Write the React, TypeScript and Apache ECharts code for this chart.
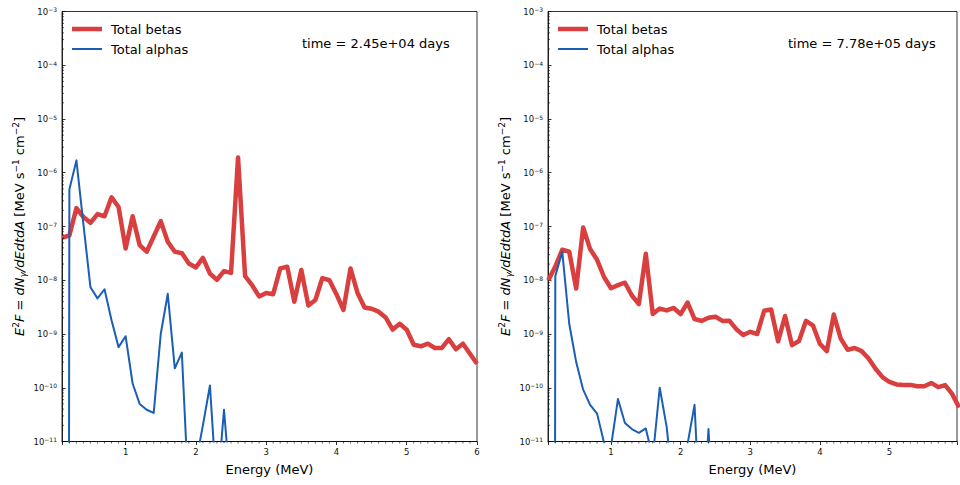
import React, { useEffect, useRef } from 'react';
import * as echarts from 'echarts';

// Energy grid (MeV)
const energies = [
  0.1, 0.2, 0.3, 0.4, 0.5, 0.6, 0.7, 0.8, 0.9,
  1.0, 1.1, 1.2, 1.3, 1.4, 1.5, 1.6, 1.7, 1.8, 1.9,
  2.0, 2.1, 2.2, 2.3, 2.4, 2.5, 2.6, 2.7, 2.8, 2.9,
  3.0, 3.1, 3.2, 3.3, 3.4, 3.5, 3.6, 3.7, 3.8, 3.9,
  4.0, 4.1, 4.2, 4.3, 4.4, 4.5, 4.6, 4.7, 4.8, 4.9,
  5.0, 5.1, 5.2, 5.3, 5.4, 5.5, 5.6, 5.7, 5.8, 5.9,
  6.0,
];

// Panel 1: time = 2.45e+04 days
const betasEarly = [
  6.2e-8, 6.8e-8, 2.2e-7, 1.5e-7, 1.17e-7, 1.7e-7, 1.55e-7, 3.5e-7, 2.3e-7,
  3.9e-8, 1.55e-7, 4.5e-8, 3.4e-8, 6.5e-8, 1.26e-7, 5.2e-8, 3.4e-8, 3.2e-8, 2.05e-8,
  1.73e-8, 2.6e-8, 1.33e-8, 1.02e-8, 1.48e-8, 1.37e-8, 1.93e-6, 1.19e-8, 8.1e-9, 5.0e-9,
  5.8e-9, 5.5e-9, 1.66e-8, 1.78e-8, 4.0e-9, 1.55e-8, 3.4e-9, 4.3e-9, 1.1e-8, 1.0e-8,
  5.5e-9, 2.8e-9, 1.66e-8, 5.8e-9, 3.1e-9, 2.95e-9, 2.6e-9, 2.03e-9, 1.21e-9, 1.55e-9,
  1.2e-9, 6.3e-10, 5.9e-10, 6.6e-10, 5.5e-10, 5.5e-10, 8.0e-10, 5.2e-10, 6.6e-10, 4.3e-10,
  2.8e-10,
];
const alphasEarly = [
  1e-100, 4.9e-7, 1.7e-6, 1.1e-7, 7.4e-9, 4.6e-9, 6.8e-9, 1.8e-9, 5.7e-10,
  9.1e-10, 1.2e-10, 5.0e-11, 3.9e-11, 3.4e-11, 1.0e-9, 5.6e-9, 2.3e-10, 4.5e-10, 8e-13,
  4e-12, 2e-11, 1.1e-10, 1e-12, 3.9e-11, 1e-12,
];

// Panel 2: time = 7.78e+05 days
const betasLate = [
  1.0e-8, 1.8e-8, 3.7e-8, 3.4e-8, 7.0e-9, 9.6e-8, 3.8e-8, 2.4e-8, 1.15e-8,
  7.1e-9, 8.1e-9, 9.0e-9, 5.2e-9, 3.6e-9, 3.1e-8, 2.35e-9, 2.97e-9, 2.75e-9, 3.05e-9,
  2.35e-9, 3.85e-9, 1.9e-9, 1.75e-9, 2.0e-9, 2.1e-9, 1.75e-9, 1.77e-9, 1.23e-9, 9.6e-10,
  1.1e-9, 1.0e-9, 2.7e-9, 2.85e-9, 7.3e-10, 2.16e-9, 6.2e-10, 7.4e-10, 1.75e-9, 1.45e-9,
  6.6e-10, 4.8e-10, 2.3e-9, 8.2e-10, 5.1e-10, 5.5e-10, 4.8e-10, 3.5e-10, 2.26e-10, 1.58e-10,
  1.28e-10, 1.15e-10, 1.12e-10, 1.13e-10, 1.07e-10, 1.07e-10, 1.23e-10, 1.03e-10, 1.12e-10, 7.7e-11,
  4.3e-11,
];
const alphasLate = [
  1e-100, 1.2e-8, 3.4e-8, 1.55e-9, 3.0e-10, 9.2e-11, 4.8e-11, 3.3e-11, 9.5e-12,
  8e-12, 6.2e-11, 2.2e-11, 1.7e-11, 1.45e-11, 1.75e-11, 5e-12, 1.0e-10, 1.85e-11, 1e-12,
  1e-12, 9e-12, 4.8e-11, 1e-13, 1.7e-11, 1e-13,
];

const seriesNames = ['Total betas', 'Total alphas'];
const timeLabels = ['time = 2.45e+04 days', 'time = 7.78e+05 days'];
const xLimits = [[0.095, 6.0], [0.095, 5.97]];
const yLimits = [1e-11, 1e-3];
const yDecades = [-11, -10, -9, -8, -7, -6, -5, -4];
const xLabelValues = [1, 2, 3, 4, 5, 6];

const RED = '#d93f3f';
const BLUE = '#1b5eb5';
const FONT = 'DejaVu Sans';

const pairs = (vals: number[]) => vals.map((v, i) => [energies[i], v]);

export default function App() {
  const ref = useRef<HTMLDivElement>(null);

  useEffect(() => {
    if (!ref.current) return;
    const chart = echarts.init(ref.current, undefined, { renderer: 'svg' });

    const grids = [
      { left: 62, top: 11.5, width: 415, height: 430 },
      { left: 548, top: 11.5, width: 413, height: 430 },
    ];

    const yMinorValues: number[] = [];
    yDecades.forEach((d) => {
      for (let k = 2; k <= 9; k++) yMinorValues.push(k * Math.pow(10, d));
    });

    const xMinorFor = (max: number) => {
      const out: number[] = [];
      for (let i = 1; i <= 60; i++) {
        const e = i / 10;
        if (i % 10 !== 0 && e <= max) out.push(e);
      }
      return out;
    };

    const yName =
      '{it|E}{sup|2}{it|F}{n| = }{it|dN}{sub|γ}{it|/dEdtdA}{n| [MeV s}{sup|−1}{n| cm}{sup|−2}{n|]}';
    const nameRich = {
      n: { fontSize: 13, lineHeight: 16, fontFamily: FONT, color: '#000' },
      it: { fontSize: 13, lineHeight: 16, fontFamily: FONT, color: '#000', fontStyle: 'italic' },
      sup: { fontSize: 9, lineHeight: 6, verticalAlign: 'top', fontFamily: FONT, color: '#000' },
      sub: { fontSize: 9, lineHeight: 10, verticalAlign: 'bottom', fontFamily: FONT, color: '#000', fontStyle: 'italic' },
    };

    const xAxes = grids.map((_, gi) => ({
      type: 'value',
      gridIndex: gi,
      min: xLimits[gi][0],
      max: xLimits[gi][1],
      splitLine: { show: false },
      axisLine: { show: true, lineStyle: { color: '#000', width: 0.8 } },
      axisTick: { show: true, inside: false, length: 3.5, lineStyle: { color: '#000', width: 0.8 } },
      axisLabel: {
        margin: 6,
        fontSize: 8.5,
        fontFamily: FONT,
        color: '#111',
        formatter: (v: number) => (xLabelValues.indexOf(v) >= 0 ? String(v) : ''),
      },
      name: 'Energy (MeV)',
      nameLocation: 'middle',
      nameGap: 21,
      nameTextStyle: { fontSize: 13, fontFamily: FONT, color: '#000' },
    }));

    const yAxes = grids.map((_, gi) => ({
      type: 'log',
      logBase: 10,
      gridIndex: gi,
      min: yLimits[0],
      max: yLimits[1],
      splitNumber: 8,
      splitLine: { show: false },
      axisLine: { show: true, lineStyle: { color: '#000', width: 0.8 } },
      axisTick: { show: true, inside: true, length: 3.5, lineStyle: { color: '#000', width: 0.8 } },
      axisLabel: {
        margin: 5,
        fontFamily: FONT,
        color: '#111',
        formatter: (v: number) => {
          const e = Math.round(Math.log10(v));
          return '{b|10}{sup|−' + Math.abs(e) + '}';
        },
        rich: {
          b: { fontSize: 8.5, lineHeight: 10, fontFamily: FONT, color: '#111' },
          sup: { fontSize: 6, lineHeight: 2, verticalAlign: 'top', fontFamily: FONT, color: '#111' },
        },
      },
      name: yName,
      nameLocation: 'middle',
      nameRotate: 90,
      nameGap: 35,
      nameTextStyle: { fontSize: 13, fontFamily: FONT, color: '#000', rich: nameRich },
    }));

    const minorY = (gi: number) => ({
      type: 'custom',
      xAxisIndex: gi,
      yAxisIndex: gi,
      silent: true,
      z: 5,
      data: yMinorValues.map((v) => [xLimits[gi][0], v]),
      renderItem: (params: any, api: any) => {
        const p = api.coord([api.value(0), api.value(1)]);
        return {
          type: 'line',
          shape: { x1: p[0], y1: p[1], x2: p[0] + 2, y2: p[1] },
          style: { stroke: '#000', lineWidth: 0.6 },
        };
      },
    });

    const minorX = (gi: number) => ({
      type: 'custom',
      xAxisIndex: gi,
      yAxisIndex: gi,
      silent: true,
      z: 5,
      data: xMinorFor(xLimits[gi][1]).map((e) => [e, yLimits[0]]),
      renderItem: (params: any, api: any) => {
        const p = api.coord([api.value(0), api.value(1)]);
        return {
          type: 'line',
          shape: { x1: p[0], y1: p[1], x2: p[0], y2: p[1] + 2 },
          style: { stroke: '#000', lineWidth: 0.6 },
        };
      },
    });

    const lineSeries = (name: string, vals: number[], gi: number, color: string, width: number) => ({
      type: 'line',
      name,
      xAxisIndex: gi,
      yAxisIndex: gi,
      data: pairs(vals),
      symbol: 'none',
      showSymbol: false,
      clip: true,
      lineStyle: { color, width, join: 'round', cap: 'butt' },
      itemStyle: { color },
      emphasis: { disabled: true },
    });

    const legends = grids.map((g) => ({
      orient: 'vertical',
      left: g.left + 5,
      top: 17,
      itemWidth: 30,
      itemHeight: 14,
      itemGap: 6,
      selectedMode: false,
      textStyle: { fontSize: 13, fontFamily: FONT, color: '#000', padding: [0, 0, 0, 4], lineHeight: 14 },
      data: [
        { name: seriesNames[0], icon: 'path://M0,0H30V4.5H0Z' },
        { name: seriesNames[1], icon: 'path://M0,0H30V2H0Z' },
      ],
    }));

    const option: any = {
      animation: false,
      backgroundColor: '#fff',
      grid: grids.map((g) => ({ ...g, show: true, borderColor: '#000', borderWidth: 0.8, backgroundColor: 'transparent' })),
      xAxis: xAxes,
      yAxis: yAxes,
      legend: legends,
      graphic: [
        {
          type: 'text',
          left: 302,
          top: 37,
          style: { text: timeLabels[0], fontSize: 13, fontFamily: FONT, fill: '#000' },
        },
        {
          type: 'text',
          left: 788,
          top: 37,
          style: { text: timeLabels[1], fontSize: 13, fontFamily: FONT, fill: '#000' },
        },
      ],
      series: [
        lineSeries(seriesNames[0], betasEarly, 0, RED, 4.5),
        lineSeries(seriesNames[1], alphasEarly, 0, BLUE, 2),
        lineSeries(seriesNames[0], betasLate, 1, RED, 4.5),
        lineSeries(seriesNames[1], alphasLate, 1, BLUE, 2),
        minorY(0),
        minorX(0),
        minorY(1),
        minorX(1),
      ],
    };

    chart.setOption(option);
    return () => chart.dispose();
  }, []);

  return (
    <div
      ref={ref}
      style={{ position: 'fixed', left: 0, top: 0, width: 960, height: 485, background: '#fff' }}
    />
  );
}
